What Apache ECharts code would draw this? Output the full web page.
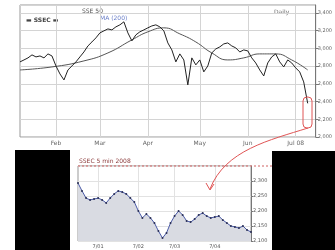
<!DOCTYPE html>
<html>
<head>
<meta charset="utf-8">
<script src="https://cdn.jsdelivr.net/npm/echarts@6/dist/echarts.min.js"></script>
<style>
  html, body { margin: 0; padding: 0; background: #fff; }
  #main { width: 335px; height: 250px; }
</style>
</head>
<body>
<div id="main"></div>
<script>
// main chart, daily close
const closeVals = [2848, 2870, 2893, 2927, 2904, 2915, 2893, 2938, 2915, 2802,
  2712, 2644, 2757, 2802, 2848, 2904, 2960, 3028, 3073, 3119,
  3175, 3198, 3220, 3209, 3243, 3266, 3300, 3175, 3085, 3153,
  3187, 3209, 3232, 3254, 3266, 3243, 3198, 3062, 2983, 2848,
  2938, 2870, 2588, 2893, 2814, 2870, 2735, 2802, 2949, 2994,
  3017, 3051, 3062, 3028, 3006, 2960, 2983, 2972, 2893, 2836,
  2757, 2689, 2836, 2904, 2938, 2848, 2791, 2870, 2836, 2780,
  2735, 2622, 2380, null, null]
// moving average, sampled every 4 days
const maVals = [2757, null, null, null, null, null, null, null, 2791, null,
  null, null, null, null, null, null, 2859, null, null, null,
  null, null, 2949, null, null, null, null, null, 3096, null,
  null, null, 3187, null, null, null, 3232, null, null, null,
  3164, null, null, null, 3073, null, null, null, 2949, null,
  null, null, 2870, null, null, null, 2893, null, null, null,
  2938, null, null, null, 2938, null, null, null, 2870, null,
  null, null, 2757, null, null]
const topTickIdx = [9, 20, 32, 45, 57, 69]
const topTickLabels = ['Feb', 'Mar', 'Apr', 'May', 'Jun', 'Jul 08']

// zoomed inset
const zoomVals = [2293, 2267, 2243, 2237, 2240, 2243, 2237, 2227, 2243, 2257,
  2267, 2263, 2257, 2243, 2230, 2200, 2177, 2190, 2177, 2160,
  2133, 2110, 2127, 2160, 2183, 2200, 2187, 2167, 2163, 2173,
  2187, 2193, 2183, 2177, 2180, 2183, 2170, 2160, 2150, 2147,
  2143, 2150, 2137, 2130]
const zoomTickIdx = [5, 15, 24, 34]
const zoomTickLabels = ['7/01', '7/02', '7/03', '7/04']

const topCats = closeVals.map((v, i) => String(i))
const zoomCats = zoomVals.map((v, i) => String(i))

const chart = echarts.init(document.getElementById('main'), null, {renderer: 'canvas'})
const font = 'DejaVu Sans'
const gridLine = {show: true, lineStyle: {color: '#d4d4d4', width: 1}}

chart.setOption({
  backgroundColor: '#fff',
  animation: false,
  graphic: [
    // black side panels
    {type: 'rect', shape: {x: 15, y: 150, width: 55, height: 100}, style: {fill: '#000'}, z: 1},
    {type: 'rect', shape: {x: 272, y: 151, width: 63, height: 99}, style: {fill: '#000'}, z: 1},
    // texts of top chart
    {type: 'text', left: 82, top: 8, style: {text: 'SSE 50', fill: '#555', font: '6px ' + font}},
    {type: 'text', left: 26, top: 17, style: {text: '\u25AC SSEC \u25AC', fill: '#444', font: 'bold 6px ' + font}},
    {type: 'text', left: 100, top: 15, style: {text: 'MA (200)', fill: '#6a7fc8', font: '6px ' + font}},
    {type: 'text', left: 274, top: 9, style: {text: 'Daily', fill: '#666', font: '6px ' + font}},
    // inset title + dashed rule
    {type: 'text', left: 79, top: 158, style: {text: 'SSEC 5 min 2008', fill: '#8a3a3a', font: '6px ' + font}, z: 5},
    {type: 'line', shape: {x1: 78, y1: 166, x2: 272, y2: 166}, style: {stroke: '#d06060', lineWidth: 1, lineDash: [2, 2]}, z: 5},
    // highlight + arrow
    {type: 'rect', shape: {x: 303, y: 97, width: 9, height: 31, r: 4}, style: {fill: 'none', stroke: '#e05555', lineWidth: 1}, z: 10},
    {type: 'bezierCurve', shape: {x1: 308, y1: 128, cpx1: 270, cpy1: 140, cpx2: 225, cpy2: 150, x2: 210, y2: 189},
      style: {stroke: '#e05555', lineWidth: 1, fill: 'none'}, z: 10},
    {type: 'polyline', shape: {points: [[206, 183], [210, 190], [214, 184]]},
      style: {stroke: '#e05555', lineWidth: 1, fill: 'none'}, z: 10}
  ],
  grid: [
    {left: 20, right: 19, top: 5, bottom: 113, show: true, borderColor: '#999', borderWidth: 1, backgroundColor: '#fff'},
    {left: 78, right: 84, top: 166, bottom: 9, show: true, borderColor: '#999', borderWidth: 1, backgroundColor: '#fff'}
  ],
  xAxis: [
    {
      type: 'category', gridIndex: 0, data: topCats, boundaryGap: false,
      axisLine: {show: false}, axisTick: {show: false},
      axisLabel: {
        interval: (i) => topTickIdx.includes(i),
        formatter: (v, i) => topTickLabels[topTickIdx.indexOf(+v)] || '',
        fontSize: 6, color: '#666', margin: 3, fontFamily: font
      },
      splitLine: {show: true, interval: (i) => topTickIdx.includes(i), lineStyle: {color: '#d4d4d4'}}
    },
    {
      type: 'category', gridIndex: 1, data: zoomCats, boundaryGap: false,
      axisLine: {show: false}, axisTick: {show: false},
      axisLabel: {
        interval: (i) => zoomTickIdx.includes(i),
        formatter: (v) => zoomTickLabels[zoomTickIdx.indexOf(+v)] || '',
        fontSize: 5, color: '#555', margin: 3, fontFamily: font
      },
      splitLine: {show: true, interval: (i) => zoomTickIdx.includes(i), lineStyle: {color: '#e2e2e2'}}
    }
  ],
  yAxis: [
    {
      type: 'value', gridIndex: 0, position: 'right', min: 2000, max: 3490, interval: 200,
      axisLine: {show: true, lineStyle: {color: '#777'}},
      axisTick: {show: true, length: 3, lineStyle: {color: '#777'}},
      axisLabel: {fontSize: 5, color: '#666', margin: 2, showMaxLabel: false, fontFamily: font},
      splitLine: gridLine
    },
    {
      type: 'value', gridIndex: 1, position: 'right', min: 2100, max: 2350, interval: 50,
      axisLine: {show: true, lineStyle: {color: '#777'}},
      axisTick: {show: true, length: 2, lineStyle: {color: '#777'}},
      axisLabel: {fontSize: 5, color: '#555', margin: 2, showMaxLabel: false, fontFamily: font},
      splitLine: {show: true, lineStyle: {color: '#e2e2e2'}}
    }
  ],
  series: [
    {
      name: 'MA', type: 'line', xAxisIndex: 0, yAxisIndex: 0, data: maVals,
      connectNulls: true, smooth: true, showSymbol: false,
      lineStyle: {color: '#555', width: 1}
    },
    {
      name: 'SSEC', type: 'line', xAxisIndex: 0, yAxisIndex: 0, data: closeVals,
      showSymbol: false, lineStyle: {color: '#222', width: 1}
    },
    {
      name: 'zoom', type: 'line', xAxisIndex: 1, yAxisIndex: 1, data: zoomVals,
      symbol: 'circle', symbolSize: 2, showSymbol: true,
      itemStyle: {color: '#2a2f55'},
      lineStyle: {color: '#4a5aa8', width: 1},
      areaStyle: {color: '#d9dbe2', opacity: 1}
    }
  ]
})
</script>
</body>
</html>
